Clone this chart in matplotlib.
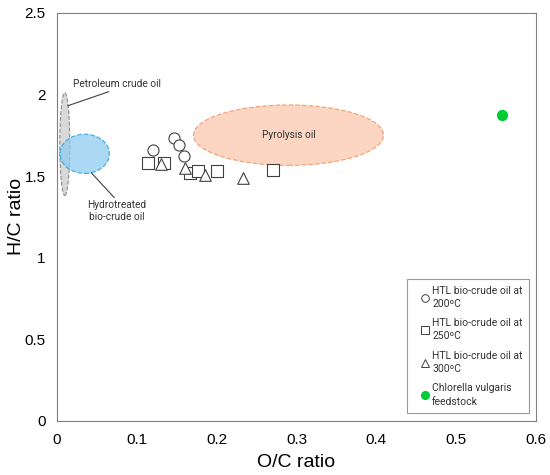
import matplotlib.pyplot as plt
from matplotlib.patches import Ellipse
from matplotlib.lines import Line2D

plt.rcParams['font.family'] = ['Liberation Sans', 'DejaVu Sans']

# HTL bio-crude oils (O/C, H/C)
oc_200 = [0.120, 0.146, 0.153, 0.159]
hc_200 = [1.66, 1.73, 1.69, 1.625]

oc_250 = [0.114, 0.134, 0.166, 0.176, 0.200, 0.270]
hc_250 = [1.58, 1.58, 1.52, 1.53, 1.53, 1.535]

oc_300 = [0.130, 0.160, 0.186, 0.233]
hc_300 = [1.575, 1.547, 1.508, 1.487]

oc_feed = [0.557]
hc_feed = [1.874]

# reference regions: (center O/C, center H/C, width, height)
petroleum = (0.0098, 1.695, 0.0125, 0.63)
hydrotreated = (0.0347, 1.636, 0.062, 0.24)
pyrolysis = (0.290, 1.75, 0.238, 0.37)

fig = plt.figure(figsize=(5.5, 4.75), dpi=100)
ax = fig.add_axes([0.1036, 0.1137, 0.871, 0.8596])

edge = '#404040'
note_font = ['Roboto', 'DejaVu Sans']

ax.add_patch(Ellipse(petroleum[:2], petroleum[2], petroleum[3],
                     facecolor='#d9d9d9', edgecolor='#8c8c8c', ls='--', lw=0.8, zorder=1))
ax.add_patch(Ellipse(hydrotreated[:2], hydrotreated[2], hydrotreated[3],
                     facecolor='#8fcbee', alpha=0.75, edgecolor='#1f9be0', ls='--', lw=0.9, zorder=2))
ax.add_patch(Ellipse(pyrolysis[:2], pyrolysis[2], pyrolysis[3],
                     facecolor='#fcd6c2', edgecolor='#f5a47c', ls='--', lw=0.9, zorder=1))

ax.text(pyrolysis[0], pyrolysis[1], 'Pyrolysis oil', ha='center', va='center',
        fontsize=7.3, color='#333333', family=note_font)

ax.annotate('Petroleum crude oil', xy=(0.0135, 1.93), xytext=(0.02, 2.064),
            fontsize=7.3, color='#333333', ha='left', va='center', family=note_font,
            arrowprops=dict(arrowstyle='-', color='#404040', lw=0.8,
                            shrinkA=0, shrinkB=0, relpos=(0.5, 0)))
ax.annotate('Hydrotreated\nbio-crude oil', xy=(0.043, 1.52), xytext=(0.075, 1.283),
            fontsize=7.3, color='#333333', ha='center', va='center', family=note_font,
            linespacing=1.25,
            arrowprops=dict(arrowstyle='-', color='#404040', lw=0.8,
                            shrinkA=0, shrinkB=0, relpos=(0.5, 1)))

ax.scatter(oc_200, hc_200, s=64, marker='o', facecolor='white', edgecolor=edge, lw=0.8, zorder=3)
ax.scatter(oc_250, hc_250, s=64, marker='s', facecolor='white', edgecolor=edge, lw=0.8, zorder=3)
ax.scatter(oc_300, hc_300, s=70, marker='^', facecolor='white', edgecolor=edge, lw=0.8, zorder=3)
ax.scatter(oc_feed, hc_feed, s=50, marker='o', color='#00cc33', zorder=3)

ax.set_xlim(0, 0.6)
ax.set_ylim(0, 2.5)
ax.set_xticks([0, 0.1, 0.2, 0.3, 0.4, 0.5, 0.6])
ax.set_xticklabels(['0', '0.1', '0.2', '0.3', '0.4', '0.5', '0.6'])
ax.set_yticks([0, 0.5, 1, 1.5, 2, 2.5])
ax.set_yticklabels(['0', '0.5', '1', '1.5', '2', '2.5'])
ax.tick_params(length=0, labelsize=11)
ax.tick_params(axis='x', pad=9)
ax.tick_params(axis='y', pad=8)
for s in ax.spines.values():
    s.set_color('#7f7f7f')
    s.set_linewidth(0.8)

ax.set_xlabel('O/C ratio', fontsize=14, labelpad=5)
ax.set_ylabel('H/C ratio', fontsize=14, labelpad=0)

handles = [
    Line2D([], [], ls='', marker='o', ms=5.5, mfc='white', mec=edge, mew=0.7),
    Line2D([], [], ls='', marker='s', ms=5.5, mfc='white', mec=edge, mew=0.7),
    Line2D([], [], ls='', marker='^', ms=5.5, mfc='white', mec=edge, mew=0.7),
    Line2D([], [], ls='', marker='o', ms=5.5, color='#00cc33'),
]
labels = ['HTL bio-crude oil at\n200ºC', 'HTL bio-crude oil at\n250ºC',
          'HTL bio-crude oil at\n300ºC', 'Chlorella vulgaris\nfeedstock']
leg = ax.legend(handles, labels, loc='lower right', bbox_to_anchor=(0.985, 0.02),
                borderaxespad=0, prop={'family': note_font, 'size': 7.5},
                frameon=True, fancybox=False, handlelength=2.2,
                handletextpad=-0.4, labelspacing=0.9, borderpad=0.6)
leg.get_frame().set_edgecolor('#7f7f7f')
leg.get_frame().set_linewidth(0.8)
for t in leg.get_texts():
    t.set_color('#333333')
    t.set_linespacing(1.4)

fig.savefig('out.png', dpi=100)
